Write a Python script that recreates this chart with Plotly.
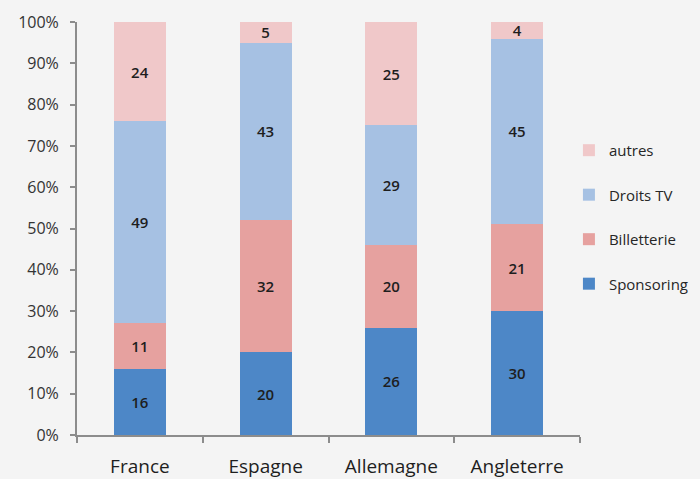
import plotly.graph_objects as go

categories = ["France", "Espagne", "Allemagne", "Angleterre"]
sponsoring = [16, 20, 26, 30]
billetterie = [11, 32, 20, 21]
droits_tv = [49, 43, 29, 45]
autres = [24, 5, 25, 4]
y_ticks = list(range(0, 101, 10))
y_tick_labels = [f"{v}%" for v in y_ticks]

series = [
    ("Sponsoring", sponsoring, "#4D87C7", 4),
    ("Billetterie", billetterie, "#E6A19F", 3),
    ("Droits TV", droits_tv, "#A6C1E3", 2),
    ("autres", autres, "#F0C8C9", 1),
]

BG = "#F4F4F4"

fig = go.Figure()
for name, vals, color, rank in series:
    fig.add_trace(go.Bar(
        name=name, x=categories, y=vals,
        marker=dict(color=color, line=dict(width=0)),
        text=[str(v) for v in vals], textposition="inside",
        insidetextanchor="middle", textangle=0, constraintext="none",
        textfont=dict(family="Open Sans", size=15, color="#1E1E1E", weight=600),
        legendgroup=name, legendrank=rank,
    ))

fig.update_layout(
    barmode="stack",
    bargap=0.585,
    width=700, height=479,
    paper_bgcolor=BG, plot_bgcolor=BG,
    margin=dict(l=77, r=120, t=22, b=44, autoexpand=False),
    font=dict(family="Open Sans", size=13, color="#333333"),
    legend=dict(
        traceorder="grouped",
        x=0.978, y=0.528, xanchor="left", yanchor="middle",
        font=dict(size=15, color="#262626"),
        tracegroupgap=22,
        itemwidth=30,
        bgcolor="rgba(0,0,0,0)",
    ),
    xaxis=dict(
        automargin=False,
        showline=True, linecolor="#8C8C8C", linewidth=2,
        ticks="outside", tickson="boundaries", ticklen=6, tickcolor="#8C8C8C", tickwidth=1.5,
        ticklabelstandoff=13,
        tickfont=dict(size=19, color="#1E1E1E"),
        showgrid=False,
    ),
    yaxis=dict(
        automargin=False,
        range=[0, 100],
        tickvals=y_ticks, ticktext=y_tick_labels,
        showline=True, linecolor="#8C8C8C", linewidth=2,
        ticks="outside", ticklen=5, tickcolor="#8C8C8C", tickwidth=1.5,
        ticklabelstandoff=8,
        tickfont=dict(size=16, color="#333333"),
        showgrid=False, zeroline=False,
    ),
)

fig.write_html(
    "out.html",
    config={"displayModeBar": False},
    post_script="document.body.style.margin='0';document.body.style.background='" + BG + "';",
)
